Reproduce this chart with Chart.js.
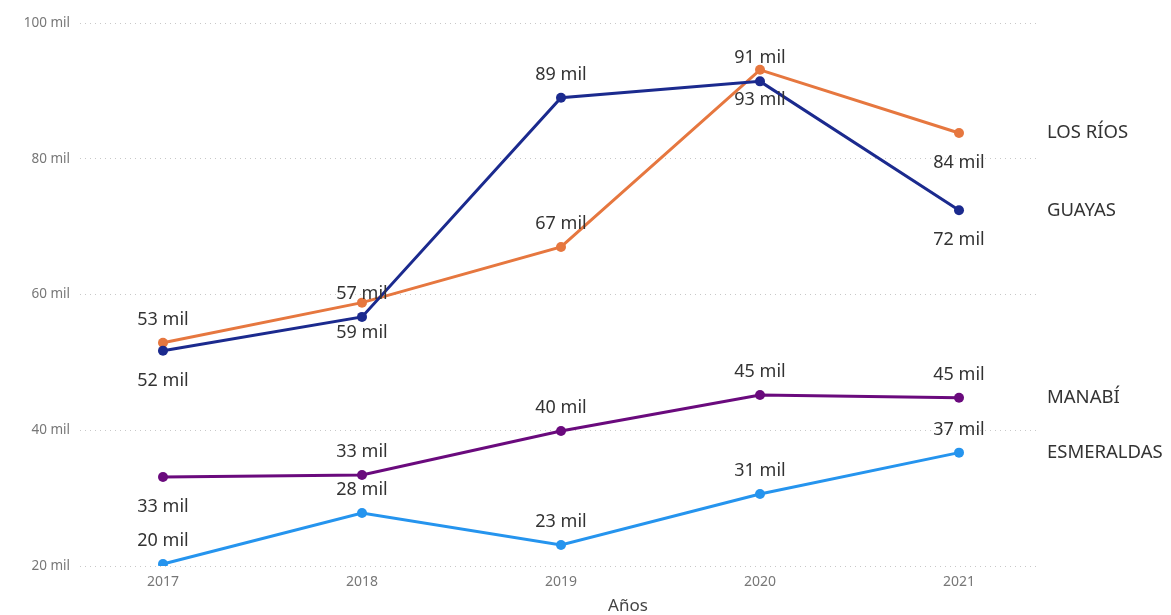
<!DOCTYPE html>
<html>
<head>
<meta charset="utf-8">
<script src="https://cdn.jsdelivr.net/npm/chart.js@4.4.1/dist/chart.umd.min.js"></script>
<style>
  html, body { margin: 0; padding: 0; background: #ffffff; }
  #wrap { width: 1171px; height: 615px; position: relative; }
</style>
</head>
<body>
<div id="wrap"><canvas id="c" width="1171" height="615"></canvas></div>
<script>
// ---- Data (values in thousands, "mil") ----
const years = [2017, 2018, 2019, 2020, 2021];
const yTicks = [20, 40, 60, 80, 100];
const seriesNames = ['GUAYAS', 'LOS RÍOS', 'MANABÍ', 'ESMERALDAS'];
const guayas     = [51.7, 56.7, 89.0, 91.4, 72.4];
const losRios    = [52.9, 58.8, 67.0, 93.1, 83.8];
const manabi     = [33.1, 33.4, 39.9, 45.2, 44.8];
const esmeraldas = [20.3, 27.8, 23.1, 30.6, 36.7];
const xTitle = 'Años';

// ---- Styles ----
const colors = ['#1B2A8E', '#E6773F', '#6A0A7D', '#2594EE'];
// label placement per point: 'a' above, 'b' below
const labelPlacement = [
  ['b', 'a', 'a', 'a', 'b'],
  ['a', 'b', 'a', 'b', 'b'],
  ['b', 'a', 'a', 'a', 'a'],
  ['a', 'a', 'a', 'a', 'a']
];
const seriesValues = [guayas, losRios, manabi, esmeraldas];

const datasets = seriesValues.map((vals, i) => ({
  label: seriesNames[i],
  data: vals.map((v, j) => ({ x: years[j], y: v })),
  borderColor: colors[i],
  backgroundColor: colors[i],
  borderWidth: 3,
  pointRadius: 5,
  pointHoverRadius: 5,
  pointBorderWidth: 0,
  tension: 0,
  _place: labelPlacement[i]
}));

const labelPlugin = {
  id: 'labels',
  afterDatasetsDraw(chart) {
    const ctx = chart.ctx;
    ctx.save();
    ctx.fillStyle = '#333333';
    ctx.textBaseline = 'middle';
    chart.data.datasets.forEach((ds, i) => {
      const meta = chart.getDatasetMeta(i);
      ctx.font = '18px "Noto Sans", "Open Sans", sans-serif';
      ctx.textAlign = 'center';
      meta.data.forEach((pt, j) => {
        const v = ds.data[j].y;
        const txt = Math.round(v) + ' mil';
        const dy = ds._place[j] === 'a' ? -23 : 30;
        ctx.fillText(txt, pt.x, pt.y + dy);
      });
      // series name at line end
      const last = meta.data[meta.data.length - 1];
      ctx.font = '18.5px "Noto Sans", "Open Sans", sans-serif';
      ctx.textAlign = 'left';
      ctx.fillText(ds.label, 1047, last.y);
    });
    // x axis title
    ctx.font = '17px "Noto Sans", "Open Sans", sans-serif';
    ctx.fillStyle = '#444444';
    ctx.textAlign = 'center';
    ctx.fillText(xTitle, 628, 606);
    ctx.restore();
  }
};

new Chart(document.getElementById('c'), {
  type: 'line',
  data: { datasets },
  options: {
    responsive: false,
    animation: false,
    devicePixelRatio: 1,
    layout: { padding: { top: 23, right: 131, left: 0, bottom: 0 } },
    plugins: {
      legend: { display: false },
      tooltip: { enabled: false }
    },
    scales: {
      x: {
        type: 'linear',
        min: 2016.583,
        max: 2021.407,
        afterFit(s) { s.height = 49; },
        grid: { display: false, drawTicks: false },
        border: { display: false },
        ticks: {
          stepSize: 1,
          includeBounds: false,
          padding: 8,
          color: '#777777',
          font: { size: 14, family: '"Noto Sans", sans-serif' },
          callback: v => String(v)
        }
      },
      y: {
        min: 20,
        max: 100,
        afterFit(s) { s.width = 80; },
        afterBuildTicks(s) { s.ticks = yTicks.map(v => ({ value: v })); },
        grid: {
          color: '#c8c8c8',
          lineWidth: 1,
          drawTicks: false
        },
        border: { display: false, dash: [1, 4] },
        ticks: {
          padding: 10,
          color: '#777777',
          font: { size: 13.5, family: '"Noto Sans", sans-serif' },
          callback: v => v + ' mil'
        }
      }
    }
  },
  plugins: [labelPlugin]
});
</script>
</body>
</html>
